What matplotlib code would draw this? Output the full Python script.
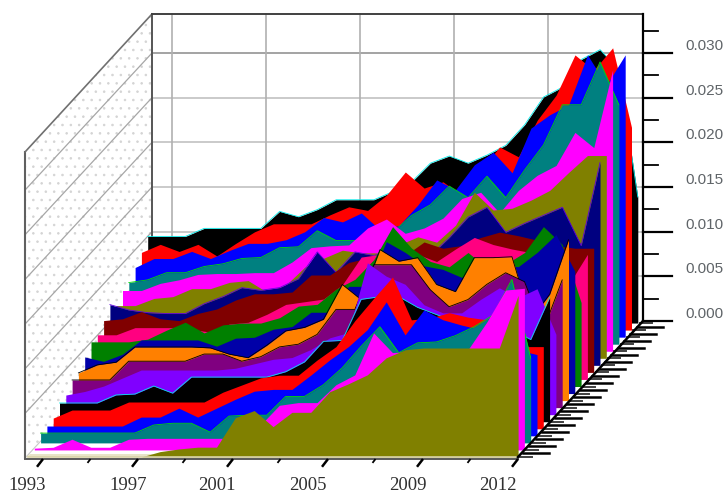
import numpy as np
import matplotlib
matplotlib.use("Agg")
import matplotlib.pyplot as plt
from matplotlib.patches import Polygon
from matplotlib.transforms import Affine2D

# values in thousandths, front series first
s00 = [0,0,0,0,0,0,0,.6,.9,1.1,1.1,4.4,5.2,3.4,5.0,5.0,7.3,8.2,9.2,11.1,12.0,12.2,12.2,12.2,12.2,12.2,18.1]
s01 = [.2,.3,1.2,.3,.3,1.2,1.3,1.3,1.3,1.3,1.3,3.4,2.8,5.0,5.3,5.3,7.3,8.4,13.1,10.9,11.0,11.0,11.0,11.2,14.3,17.9,18.1]
s02 = [1.1,1.1,1.1,1.1,1.1,1.1,2.0,2.2,2.2,1.2,3.0,3.1,3.1,5.2,5.2,6.5,8.4,10.8,13.0,10.1,11.2,11.3,12.0,13.0,14.3,18.3,9.5]
s03 = [1.1,1.1,1.1,1.1,1.1,2.1,2.1,3.1,2.1,3.1,4.1,5.0,5.2,5.2,6.8,8.5,10.0,11.9,15.0,11.3,14.1,13.0,12.4,11.9,10.8,9.6,9.1]
s04 = [1.2,2.1,2.1,2.1,3.0,3.0,3.0,3.0,3.0,4.1,4.9,5.7,6.0,6.0,7.7,9.2,12.1,14.6,17.0,12.2,12.4,13.0,12.5,12.2,10.5,9.2,9.2]
s05 = [2.1,2.1,2.1,3.0,3.1,4.0,3.2,5.0,5.0,5.0,5.0,5.0,5.6,6.7,9.0,9.1,13.7,14.0,14.0,12.8,12.0,11.2,10.9,10.3,10.3,9.2,13.9]
s06 = [2.2,2.6,3.2,4.1,5.0,5.0,5.0,5.0,5.0,5.2,5.7,6.2,6.4,7.3,8.6,9.2,17.0,15.5,14.6,12.3,11.4,11.4,12.9,14.2,13.1,14.1,9.0]
s07 = [3.1,3.1,3.1,5.2,5.2,5.2,5.2,6.0,6.0,5.2,5.7,6.8,7.1,8.2,11.0,11.0,16.0,16.0,16.0,13.2,11.3,12.1,13.8,15.1,14.1,8.7,14.3]
s08 = [3.1,4.0,4.3,6.0,6.0,6.0,6.0,5.9,5.2,4.8,6.2,7.8,8.2,9.1,13.0,11.3,16.9,15.6,16.0,13.0,12.2,16.0,16.0,16.1,9.1,11.9,18.0]
s09 = [4.1,3.6,4.4,6.0,6.0,6.0,6.0,5.3,6.2,6.3,7.2,7.5,9.1,9.1,12.0,12.0,17.0,15.8,14.3,13.9,13.0,13.9,14.4,14.2,15.8,17.8,13.7]
s10 = [5.0,5.0,5.0,5.3,6.3,7.2,6.0,6.9,7.1,7.1,7.7,9.0,9.2,10.9,12.0,14.2,17.9,15.5,14.0,13.4,15.0,13.3,13.7,15.0,17.9,15.9,9.4]
s11 = [5.0,5.0,5.8,5.8,5.8,5.6,5.3,6.2,6.4,7.3,8.4,8.7,9.0,10.6,13.7,14.0,14.8,14.0,13.2,14.6,15.9,15.1,14.6,14.2,14.0,10.6,14.0]
s12 = [5.8,6.0,6.8,6.0,5.8,6.6,7.1,8.1,8.8,8.8,9.0,10.9,10.9,12.3,12.8,12.3,13.1,14.6,13.9,14.2,15.1,15.7,15.3,14.8,14.2,13.9,13.9]
s13 = [6.8,6.2,5.9,5.8,5.8,6.9,7.7,8.7,8.4,8.7,9.7,12.7,10.4,12.7,12.3,12.9,12.3,12.3,14.3,16.6,17.7,14.9,15.9,16.8,17.7,13.4,22.7]
s14 = [5.9,5.9,6.7,6.9,7.8,7.8,8.5,8.7,7.4,8.2,10.2,11.2,12.1,11.8,11.8,12.7,13.6,13.0,14.9,18.6,16.6,16.8,17.7,18.8,20.8,22.7,22.7]
s15 = [6.8,6.8,7.6,8.0,8.6,8.7,8.7,8.8,8.8,10.0,11.6,11.8,11.9,13.8,14.8,13.2,13.8,14.9,17.1,17.8,15.5,18.0,19.7,20.8,24.5,22.8,31.5]
s16 = [6.9,7.2,8.0,8.0,8.7,9.0,9.6,9.7,10.8,10.9,12.7,11.6,11.6,11.6,12.5,14.4,15.6,17.7,16.4,18.8,16.4,19.5,22.3,26.8,26.8,31.6,26.8]
s17 = [7.8,8.8,8.8,9.6,8.8,9.7,10.5,10.5,10.9,11.8,13.4,12.9,13.9,12.0,12.5,14.8,17.6,16.5,19.3,20.7,18.4,23.4,24.9,26.0,31.6,28.2,31.6]
s18 = [8.7,9.6,8.8,9.6,8.3,9.7,11.0,11.9,11.9,11.9,12.9,13.8,13.4,15.1,17.7,15.9,16.6,15.1,17.9,20.5,19.4,23.5,26.3,30.8,29.1,31.6,22.7]
s19 = [9.7,9.7,9.7,10.6,10.6,10.6,10.6,12.5,11.9,12.7,13.8,13.8,13.8,14.7,15.8,17.9,18.7,17.9,18.8,19.9,22.2,25.3,26.4,29.5,30.6,28.3,14.1]
series = [s00,s01,s02,s03,s04,s05,s06,s07,s08,s09,s10,s11,s12,s13,s14,s15,s16,s17,s18,s19]

fills = ["#808000","#ff00ff","#008080","#0000ff","#ff0000","#000000","#8000ff","#800080",
         "#ff8000","#0000a8","#008000","#ff0080","#800000","#000080","#808000","#ff00ff",
         "#008080","#0000ff","#ff0000","#000000"]
edges = [None,None,"#00e000",None,None,"#00e8e8",None,"#000000","#000000",None,
         None,None,None,"#6000e0",None,None,"#00e000",None,None,"#00e8e8"]
year_labels = ["1993","1997","2001","2005","2009","2012"]
value_labels = ["0.000","0.005","0.010","0.015","0.020","0.025","0.030"]

# layout of the projected box, in pixels
X0, Y0 = 28.0, 457.0      # first point of the front series
DX_PT = 18.85             # per point along the time axis
DX_S, DY_S = 6.3, 7.05    # per series along the depth axis
PX_PER_VALUE = 268 / 0.03
LEFT, RIGHT = 26, 518
BACK_DX, BACK_DY = 125, 136
TOP = 14
TICK0, TICK_STEP = 43.0, 23.75   # one year step of the labelled time axis

fig = plt.figure(figsize=(7.25, 4.93), dpi=100, facecolor="white")
ax = fig.add_axes([0, 0, 1, 1])
ax.set_xlim(0, 725)
ax.set_ylim(493, 0)
ax.axis("off")

plt.rcParams["hatch.linewidth"] = 0.6
back_base = Y0 - BACK_DY
LB, RB = LEFT + BACK_DX + 1, RIGHT + BACK_DX
GRID = "#bcbcbc"

# left wall
wall_top_front = TOP + BACK_DY + 2
ax.add_patch(Polygon([(LEFT, wall_top_front), (LB, TOP), (LB, back_base), (LEFT, Y0)],
                     closed=True, facecolor="white", edgecolor="#d4d4d4", hatch="..", lw=0, zorder=1))

for i in range(1, 7):
    yb = back_base - i * 0.005 * PX_PER_VALUE
    ax.plot([LB, RB], [yb, yb], color=GRID if i < 6 else "#8a8a8a", lw=1.1, zorder=2)
    ax.plot([LEFT, LB], [yb + BACK_DY, yb], color="#a6a6a6", lw=0.9, zorder=2)
ax.plot([LEFT, LB], [Y0, back_base], color="#c8c8c8", lw=0.8, zorder=2)
for i in range(1, 6):
    xt = TICK0 + 129 + (i - 1) * 94
    ax.plot([xt, xt], [TOP, back_base], color="#b0b0b0", lw=1.2, zorder=2)

# frame
ax.plot([LEFT - 1, LEFT - 1], [wall_top_front, Y0 + 1], color="#606060", lw=1.5, zorder=3)
ax.plot([LEFT - 1, LB], [wall_top_front, TOP], color="#707070", lw=1.2, zorder=3)
ax.plot([LB, LB], [TOP, back_base], color="#555555", lw=1.4, zorder=3)
ax.plot([LB, RB], [TOP, TOP], color="#404040", lw=1.4, zorder=3)
ax.plot([RB, RB], [TOP, back_base], color="#000000", lw=1.6, zorder=30)

# floor
ax.add_patch(Polygon([(LEFT, Y0), (LEFT + 4, Y0 - 3), (RIGHT + 2, Y0 - 3), (RIGHT, Y0)],
                     closed=True, facecolor="#e8e4c8", lw=0, zorder=3))

# series, back to front
idx = np.arange(len(s00))
for k in range(len(series) - 1, -1, -1):
    vals = np.array(series[k]) / 1000.0
    tf = Affine2D.from_values(DX_PT, 0, 0, -PX_PER_VALUE,
                              X0 + DX_S * k, Y0 - DY_S * k) + ax.transData
    z = 10 + (len(series) - k) * 0.5
    ax.fill_between(idx, 0, vals, color=fills[k], lw=0, transform=tf, zorder=z)
    if edges[k]:
        ax.plot(idx, vals, color=edges[k], lw=0.6, transform=tf, zorder=z + 0.1)

# bottom axis
ax.plot([LEFT - 1, RIGHT], [Y0 + 1.5, Y0 + 1.5], color="#5a5a5a", lw=1.4, zorder=30)
ax.plot([LEFT + 2, RIGHT], [Y0, Y0], color="#d8d2a8", lw=1.2, zorder=30)
label_cx = [27, 128, 217, 308, 408, 498]
for j in range(0, 11):
    xt = TICK0 + j * 2 * TICK_STEP
    major = j % 2 == 0
    ln = 6 if major else 3
    ax.plot([xt, xt - ln], [Y0 + 2, Y0 + 2 + ln * 1.3], color="black", lw=1.8 if major else 1.3,
            zorder=31, solid_capstyle="butt")
for lab, cx in zip(year_labels, label_cx):
    ax.text(cx, 485, lab, ha="center", va="center", family="Liberation Serif",
            fontsize=13.5, color="#303030", zorder=31)

# depth axis
ax.plot([RIGHT, RB], [Y0, back_base], color="black", lw=1.8, zorder=30)
for k in range(0, 40):
    frac = k / 2
    xs = RIGHT + DX_S * frac + 2
    ys = Y0 - DY_S * frac
    if ys < back_base:
        break
    long_tick = k % 2 == 1
    ax.plot([xs, xs + (26 if long_tick else 12)], [ys, ys],
            color="black" if long_tick else "#404040", lw=1.8 if long_tick else 1.4, zorder=29)

# value axis
for i in range(0, 14):
    y = back_base - i * 0.0025 * PX_PER_VALUE
    major = i % 2 == 0 and i < 13
    ax.plot([RB, RB + (29 if major else 15)], [y, y], color="black",
            lw=1.6 if major else 1.3, zorder=30)
for i, lab in enumerate(value_labels):
    y = back_base - i * 0.005 * PX_PER_VALUE
    ax.text(685, y - 7, lab, ha="left", va="center", family="Liberation Sans",
            fontsize=11, color="#5f6468", zorder=31)

fig.savefig("out.png", dpi=100)
